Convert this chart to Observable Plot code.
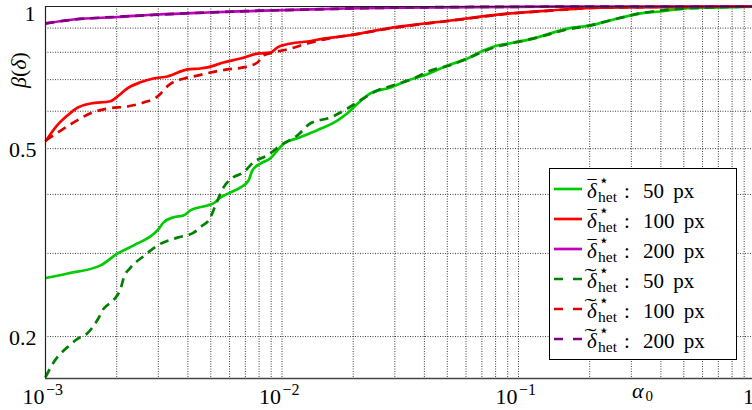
<!DOCTYPE html>
<html><head><meta charset="utf-8">
<script src="https://cdn.jsdelivr.net/npm/d3@7"></script>
<script src="https://cdn.jsdelivr.net/npm/@observablehq/plot@0.6"></script>
<style>body{margin:0;background:#fff} svg{display:block} svg text{font-family:"Liberation Serif","Times New Roman",serif}</style>
</head><body><div id="chart"></div>
<script>
// ---- data (alpha_0, beta(delta)) ----
const greenSolid = [[0.00100,0.266],[0.00124,0.272],[0.00171,0.283],[0.00202,0.300],[0.00236,0.312],[0.00298,0.336],[0.00316,0.349],[0.00348,0.358],[0.00383,0.361],[0.00410,0.370],[0.00484,0.379],[0.00513,0.383],[0.00550,0.394],[0.00606,0.404],[0.00668,0.414],[0.00722,0.428],[0.00750,0.450],[0.00811,0.465],[0.00894,0.477],[0.00957,0.496],[0.0102,0.513],[0.0116,0.526],[0.0141,0.547],[0.0172,0.574],[0.0189,0.594],[0.0209,0.623],[0.0237,0.655],[0.0288,0.674],[0.0340,0.697],[0.0397,0.714],[0.0501,0.750],[0.0609,0.776],[0.0711,0.807],[0.0815,0.827],[0.0925,0.836],[0.116,0.856],[0.161,0.898],[0.202,0.912],[0.262,0.943],[0.328,0.967],[0.399,0.976],[0.499,0.990],[0.668,0.995],[1,1]];
const redSolid = [[0.00100,0.518],[0.00112,0.560],[0.00124,0.588],[0.00137,0.611],[0.00155,0.623],[0.00188,0.630],[0.00204,0.648],[0.00222,0.671],[0.00252,0.691],[0.00286,0.704],[0.00328,0.711],[0.00399,0.736],[0.00452,0.739],[0.00484,0.743],[0.00566,0.761],[0.00668,0.776],[0.00788,0.795],[0.00894,0.799],[0.00957,0.819],[0.0109,0.835],[0.0128,0.843],[0.0150,0.855],[0.0177,0.864],[0.0195,0.870],[0.0296,0.903],[0.0516,0.934],[0.0925,0.967],[0.137,0.981],[0.222,0.995],[1,1]];
const purpleSolid = [[0.00100,0.9205],[0.00131,0.9386],[0.00202,0.950],[0.00298,0.9618],[0.00484,0.9712],[0.00736,0.978],[0.0177,0.990],[0.0317,0.995],[0.137,0.999],[1,1]];
const greenDashed = [[0.00100,0.164],[0.00108,0.176],[0.00124,0.190],[0.00137,0.198],[0.00150,0.203],[0.00166,0.217],[0.00176,0.229],[0.00194,0.239],[0.00208,0.253],[0.00214,0.266],[0.00229,0.280],[0.00260,0.296],[0.00298,0.312],[0.00361,0.324],[0.00423,0.332],[0.00452,0.341],[0.00499,0.358],[0.00523,0.379],[0.00566,0.414],[0.00624,0.435],[0.00687,0.445],[0.00758,0.468],[0.00868,0.484],[0.00986,0.508],[0.0116,0.533],[0.0132,0.566],[0.0160,0.582],[0.0189,0.608],[0.0221,0.639],[0.0253,0.664],[0.0296,0.681],[0.0360,0.704],[0.0425,0.732],[0.0501,0.748],[0.0609,0.776],[0.0711,0.803],[0.0815,0.823],[0.0925,0.835],[0.116,0.856],[0.161,0.894],[0.202,0.912],[0.262,0.943],[0.328,0.967],[0.499,0.990],[1,1]];
const redDashed = [[0.00100,0.520],[0.00116,0.546],[0.00130,0.566],[0.00155,0.594],[0.00183,0.608],[0.00222,0.614],[0.00260,0.626],[0.00298,0.645],[0.00330,0.680],[0.00399,0.707],[0.00439,0.714],[0.00499,0.725],[0.00588,0.736],[0.00687,0.743],[0.00788,0.761],[0.00835,0.788],[0.00921,0.799],[0.0109,0.815],[0.0128,0.835],[0.0150,0.851],[0.0177,0.864],[0.0195,0.870],[0.0296,0.901],[0.0516,0.933],[0.0925,0.966],[0.137,0.980],[0.222,0.995],[1,1]];
const purpleDashed = [[0.00100,0.921],[0.00131,0.938],[0.00202,0.951],[0.00298,0.961],[0.00484,0.971],[0.00736,0.978],[0.0177,0.989],[0.0317,0.995],[0.137,0.999],[1,1]];

const legendSizes = ["50 px","100 px","200 px","50 px","100 px","200 px"];
const legendAccents = ["bar","bar","bar","tilde","tilde","tilde"];
const seriesColors = ["#00cc00","#ff0000","#bf00bf","#008000","#dd0000","#800080"];
const seriesDashes = [null,null,null,"9,6","9,6","9,6"];
const seriesData = [greenSolid, redSolid, purpleSolid, greenDashed, redDashed, purpleDashed];

const xDomain = [1e-3, 1];
const yDomain = [0.163, 1];
const xTickValues = [1e-3, 1e-2, 1e-1, 1];
const xTickMantissas = ["10", "10", "10", "1"];
const xTickExponents = ["\u22123", "\u22122", "\u22121", ""];
const yTickValues = [0.2, 0.5, 1];
const yTickLabels = ["0.2", "0.5", "1"];

const series = seriesData.map((data, i) => ({
  data, color: seriesColors[i], dash: seriesDashes[i], accent: legendAccents[i], size: legendSizes[i]
}));

const xGrid = d3.scaleLog().domain(xDomain).ticks();
const yGrid = d3.scaleLog().domain(yDomain).ticks();

const gridStyle = {stroke: "#000", strokeWidth: 0.9, strokeOpacity: 0.85, strokeDasharray: "1,1.5"};
const marks = [
  Plot.ruleX(xGrid, {x: d => d, ...gridStyle}),
  Plot.ruleY(yGrid, {y: d => d, ...gridStyle}),
  ...series.map(s => Plot.line(s.data, {
    x: d => d[0], y: d => d[1], stroke: s.color, strokeWidth: 2.7,
    strokeDasharray: s.dash, curve: "monotone-x", strokeLinecap: "butt"
  })),
  Plot.ruleX([xDomain[0]], {x: d => d, stroke: "#222", strokeWidth: 1.2}),
  Plot.ruleY([yDomain[0]], {y: d => d, stroke: "#444", strokeWidth: 1.6}),
  Plot.ruleY([yDomain[1]], {y: d => d, stroke: "#222", strokeWidth: 1.2}),
  // x tick labels: mantissa and exponent
  Plot.text(xTickValues, {x: d => d, text: (d, i) => xTickMantissas[i], frameAnchor: "bottom", textAnchor: "end",
    lineAnchor: "bottom", dy: 25, dx: -1, fontSize: 22, fill: "#000"}),
  Plot.text(xTickValues, {x: d => d, text: (d, i) => xTickExponents[i], frameAnchor: "bottom", textAnchor: "start",
    lineAnchor: "bottom", dy: 16, dx: 0.5, fontSize: 16, fill: "#000"}),
  // y tick labels
  Plot.text(yTickValues.slice(0, 2), {y: d => d, text: (d, i) => yTickLabels[i], frameAnchor: "left",
    textAnchor: "end", dx: -9, dy: 1, fontSize: 22, fill: "#000"}),
  Plot.text(yTickValues.slice(2), {y: d => d, text: () => yTickLabels[2], frameAnchor: "left",
    textAnchor: "end", dx: -10, dy: 7, fontSize: 22, fill: "#000"})
];

const chart = Plot.plot({
  width: 752, height: 410,
  marginLeft: 45, marginRight: 0, marginTop: 6, marginBottom: 32,
  x: {type: "log", domain: xDomain, range: [45, 754.5], axis: null},
  y: {type: "log", domain: yDomain, range: [378, 6], axis: null},
  style: {background: "#fff", overflow: "hidden"},
  marks
});
document.getElementById("chart").appendChild(chart);

const svg = d3.select(chart);
// axis labels
const yl = svg.append("text").attr("transform", "translate(26,70) rotate(-90)")
  .attr("text-anchor", "middle").attr("font-size", 22).attr("fill", "#000");
yl.append("tspan").attr("font-style", "italic").text("\u03b2");
yl.append("tspan").text("(");
yl.append("tspan").attr("font-style", "italic").text("\u03b4");
yl.append("tspan").text(")");
const al = svg.append("g").attr("fill", "#000").attr("text-anchor", "start");
al.append("text").attr("x", 632).attr("y", 398).attr("font-size", 22).attr("font-style", "italic").text("\u03b1");
al.append("text").attr("x", 645.5).attr("y", 401).attr("font-size", 15).text("0");

// legend
const lg = svg.append("g").attr("fill", "#000").attr("text-anchor", "start");
lg.append("rect").attr("x", 549.5).attr("y", 168.5).attr("width", 187).attr("height", 191)
  .attr("fill", "#fff").attr("stroke", "#000").attr("stroke-width", 1);
series.forEach((s, i) => {
  const yb = 198 + 30 * i;
  lg.append("line").attr("x1", 554).attr("x2", 582).attr("y1", yb - 9).attr("y2", yb - 9)
    .attr("stroke", s.color).attr("stroke-width", 2.7).attr("stroke-dasharray", s.dash ? "9,10" : null);
  lg.append("text").attr("x", 587).attr("y", yb).attr("font-size", 21).attr("font-style", "italic").text("\u03b4");
  if (s.accent === "bar") {
    lg.append("text").attr("x", 587.5).attr("y", yb - 3).attr("font-size", 21)
      .attr("textLength", 9).attr("lengthAdjust", "spacingAndGlyphs").text("\u00af");
  } else {
    lg.append("text").attr("x", 584.5).attr("y", yb - 5).attr("font-size", 21)
      .attr("textLength", 12).attr("lengthAdjust", "spacingAndGlyphs").text("\u02dc");
  }
  lg.append("text").attr("x", 598.5).attr("y", yb - 12).attr("font-size", 17)
    .style("font-family", "'DejaVu Sans', sans-serif").text("\u22c6");
  lg.append("text").attr("x", 598).attr("y", yb + 4).attr("font-size", 15.5).text("het");
  lg.append("text").attr("x", 624).attr("y", yb).attr("font-size", 21).text(":");
  lg.append("text").attr("x", 643).attr("y", yb).attr("font-size", 21).attr("word-spacing", 4).text(s.size);
});
</script>
</body></html>
